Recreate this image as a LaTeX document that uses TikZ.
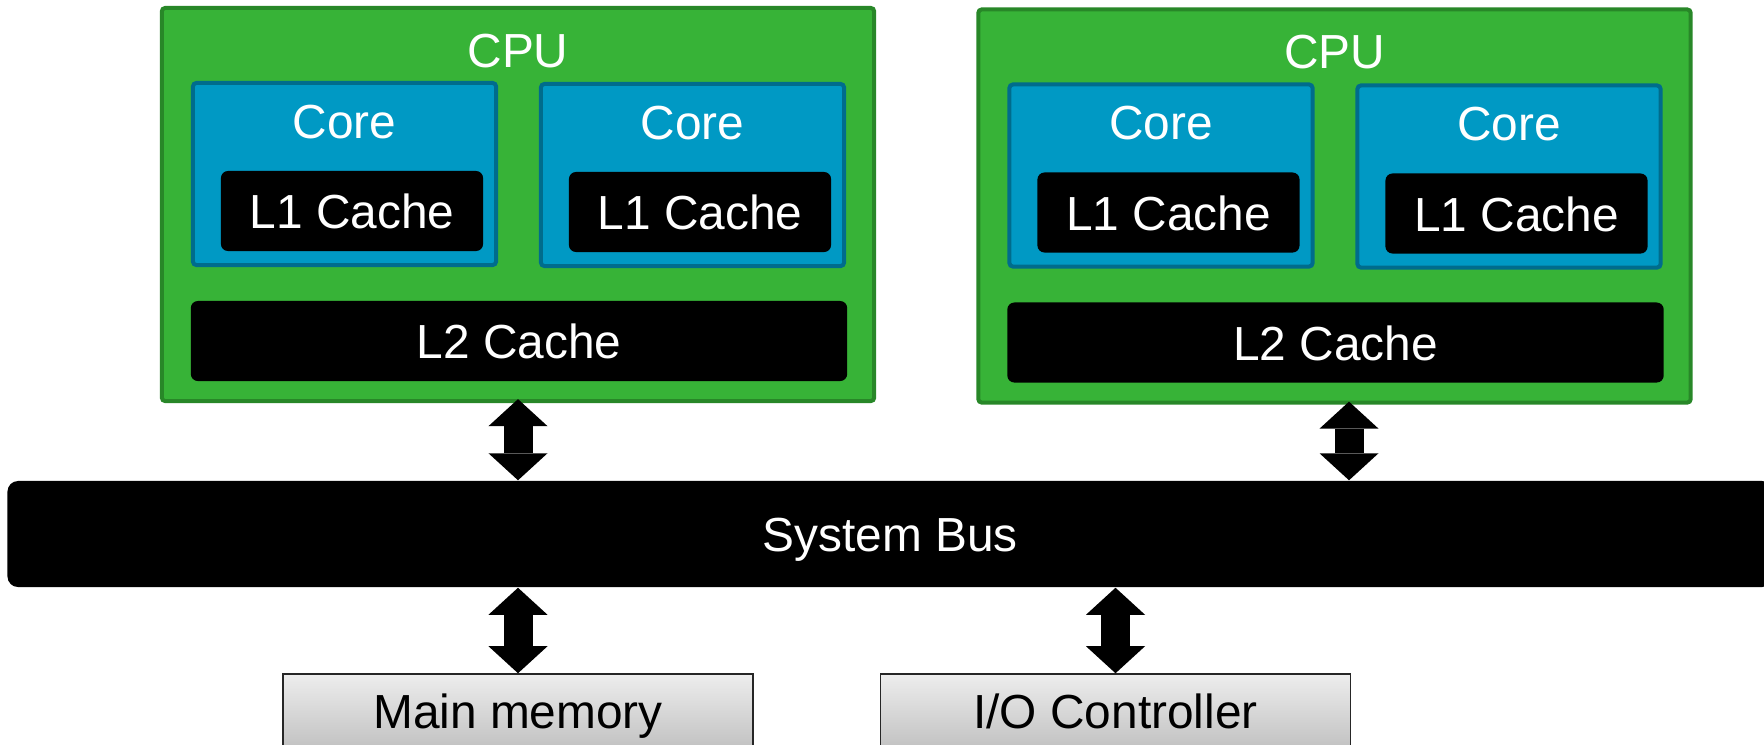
\documentclass[tikz,border=0pt]{standalone}
\usepackage{fontspec}
\setmainfont{Liberation Sans}
\usetikzlibrary{calc,arrows.meta}

\definecolor{cpufill}{RGB}{55,179,55}
\definecolor{cpuline}{RGB}{40,135,40}
\definecolor{corefill}{RGB}{0,153,196}
\definecolor{coreline}{RGB}{0,108,140}

\tikzset{
	lbl/.style={inner sep=0,text height=0.35cm,text depth=0pt,
		font=\fontsize{13.6pt}{16pt}\selectfont},
	whitelbl/.style={lbl,text=white},
	cpubox/.style={draw=cpuline,fill=cpufill,line width=0.04cm,rounded corners=1pt,
		minimum width=7.12cm,minimum height=3.93cm},
	corebox/.style={draw=coreline,fill=corefill,line width=0.04cm,rounded corners=1pt,
		minimum width=3.03cm,minimum height=1.82cm},
	cachebox/.style={whitelbl,fill=black,rounded corners=2pt,minimum height=0.8cm},
	busbox/.style={whitelbl,fill=black,rounded corners=3pt,
		minimum width=17.64cm,minimum height=1.06cm},
	devbox/.style={lbl,draw=black!85,line width=0.015cm,top color=black!7,bottom color=black!24,
		minimum width=4.7cm,minimum height=0.74cm},
	busarrow/.style={line width=0.29cm,
		{Triangle[width=0.59cm,length=0.27cm,line width=0pt]}-{Triangle[width=0.59cm,length=0.27cm,line width=0pt]}}
}

\begin{document}
\begin{tikzpicture}[x=0.01cm,y=-0.01cm]
	\useasboundingbox (0,0) rectangle (1764,744);

	% two processors
	\foreach \cpu/\cx/\cy in {A/518/204.5,B/1334.5/206}
		{
			\node[cpubox] (cpu\cpu) at (\cx,\cy) {};
			\node[whitelbl] (title\cpu) at ($(cpu\cpu)+(0,-155)$) {CPU};
			\foreach \side/\dx/\dy in {l/-173.5/-30.5,r/174.5/-29.5}
				{
					\node[corebox] (core\cpu\side) at ($(cpu\cpu)+(\dx,\dy)$) {};
					\node[whitelbl] (coretitle\cpu\side) at ($(core\cpu\side)+(0,-53.5)$) {Core};
					\node[cachebox,minimum width=2.62cm] (lone\cpu\side) at ($(core\cpu\side)+(7.5,37)$) {L1 Cache};
				}
			\node[cachebox,minimum width=6.56cm] (ltwo\cpu) at ($(cpu\cpu)+(1,136.5)$) {L2 Cache};
		}

	% bus and devices
	\node[busbox] (bus) at (890,534) {System Bus};
	\node[devbox] (mem) at (518,711) {Main memory};
	\node[devbox] (io) at (1115.5,711) {I/O Controller};

	\coordinate (tapA) at ([yshift=0.04cm]cpuA.south);
	\coordinate (tapB) at ([xshift=0.145cm,yshift=0.03cm]cpuB.south);
	\draw[busarrow] (tapA) -- (tapA |- bus.north);
	\draw[busarrow] (tapB) -- (tapB |- bus.north);
	\draw[busarrow] (bus.south -| mem.north) -- (mem.north);
	\draw[busarrow] (bus.south -| io.north) -- (io.north);
\end{tikzpicture}
\end{document}
